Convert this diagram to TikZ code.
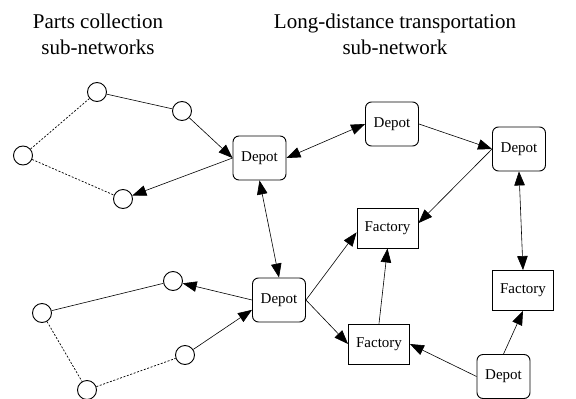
\documentclass[tikz,border=0pt]{standalone}
\usepackage{fontspec}
\setmainfont{Liberation Serif}
\usetikzlibrary{arrows.meta}
\begin{document}
\begin{tikzpicture}[x=1pt,y=-1pt,
  depot/.style={draw,line width=0.9pt,rounded corners=6pt,minimum width=53pt,minimum height=44pt,inner sep=0pt,font=\fontsize{15}{17}\selectfont},
  factory/.style={draw,line width=0.9pt,minimum width=61pt,minimum height=40pt,inner sep=0pt,font=\fontsize{15}{17}\selectfont},
  stop/.style={draw,circle,line width=0.9pt,minimum size=19pt,inner sep=0pt},
  link/.style={line width=0.6pt},
  dotlink/.style={line width=0.7pt,dash pattern=on 2pt off 1.6pt},
  arr/.style={link,-{Triangle[length=14pt,width=10.5pt]}},
  darr/.style={link,{Triangle[length=14pt,width=10.5pt]}-{Triangle[length=14pt,width=10.5pt]}},
  title/.style={align=center,font=\fontsize{21}{26}\selectfont}]
\useasboundingbox (0,0) rectangle (576,399);

% headings
\node[title] (t1) at (98,34) {Parts collection\\sub-networks};
\node[title] (t2) at (395,34) {Long-distance transportation\\sub-network};

% upper collection loop
\node[stop] (c1) at (97,92) {};
\node[stop] (c2) at (182,111) {};
\node[stop] (c3) at (23,155.5) {};
\node[stop] (c4) at (123,199) {};

% lower collection loop
\node[stop] (d1) at (173,281) {};
\node[stop] (d2) at (42,313) {};
\node[stop] (d3) at (185,355) {};
\node[stop] (d4) at (87,390) {};

% depots and factories
\node[depot] (A) at (259.5,158) {Depot};
\node[depot] (B) at (279,300) {Depot};
\node[depot] (C) at (392,124) {Depot};
\node[depot] (D) at (519,149) {Depot};
\node[depot] (E) at (503.5,376.5) {Depot};
\node[factory] (F1) at (387.5,228) {Factory};
\node[factory] (F2) at (523,290.5) {Factory};
\node[factory] (F3) at (379,344) {Factory};

% collection loops
\draw[link] (c1) -- (c2);
\draw[dotlink] (c1) -- (c3);
\draw[dotlink] (c3) -- (c4);
\draw[arr] (c2) -- (A.west);
\draw[arr] (A.west) -- (c4);

\draw[link] (d1) -- (d2);
\draw[dotlink] (d2) -- (d4);
\draw[dotlink] (d4) -- (d3);
\draw[arr] (B.west) -- (d1);
\draw[arr] (d3) -- (B.200);

% long-distance network
\draw[darr] (A.east) -- (C.west);
\draw[darr] (A.south) -- (B.north);
\draw[arr] (C.east) -- (D.west);
\draw[arr] (D.west) -- (F1.9);
\draw[darr] (D.south) -- (F2.north);
\draw[arr] (B.east) -- (F1.188);
\draw[arr] (B.east) -- (F3.west);
\draw[arr] (F3.north) -- (F1.south);
\draw[arr] (E.west) -- (F3.east);
\draw[arr] (E.north) -- (F2.south);
\end{tikzpicture}
\end{document}
